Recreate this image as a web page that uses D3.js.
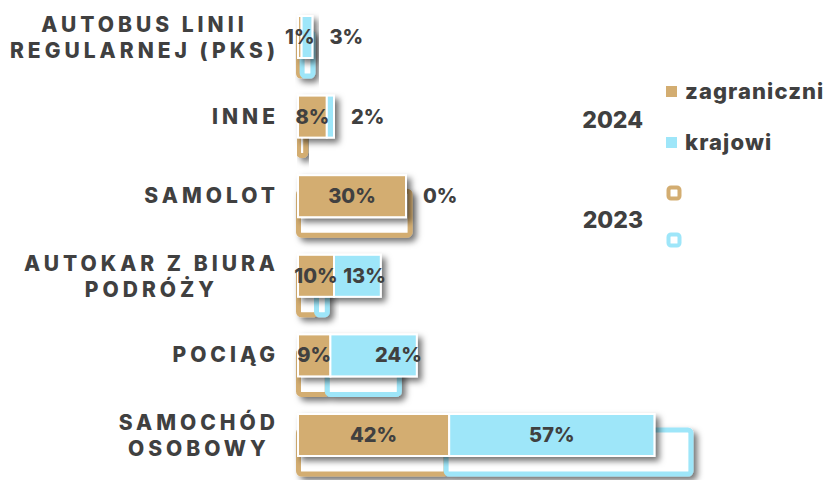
<!DOCTYPE html>
<html>
<head>
<meta charset="utf-8">
<script src="https://cdn.jsdelivr.net/npm/d3@7"></script>
<style>
  body { margin: 0; background: #fff; }
  svg { font-family: Inter, "Open Sans", sans-serif; font-weight: 800; }
</style>
</head>
<body>
<svg width="831" height="480"></svg>
<script>
// categories (tick labels, split in lines like the original)
var categories = [
  ["AUTOBUS LINII", "REGULARNEJ (PKS)"],
  ["INNE"],
  ["SAMOLOT"],
  ["AUTOKAR Z BIURA", "PODRÓŻY"],
  ["POCIĄG"],
  ["SAMOCHÓD", "OSOBOWY"]
];
// values in percent
var zag2024 = [1, 8, 30, 10, 9, 42];
var kraj2024 = [3, 2, 0, 13, 24, 57];
var zag2023 = [1, 2, 31, 5, 8, 41];
var kraj2023 = [3, 0, 0, 3, 20, 68];

var tan = "#d3ad71", blue = "#9ee6f9", ink = "#404040";

var svg = d3.select("svg");

// shadow filter
var defs = svg.append("defs");
defs.append("filter").attr("id", "shadow")
    .attr("x", "-20%").attr("y", "-30%").attr("width", "160%").attr("height", "180%")
  .append("feDropShadow")
    .attr("dx", 4).attr("dy", 4).attr("stdDeviation", 3)
    .attr("flood-color", "#000").attr("flood-opacity", 0.55);

var idx = d3.range(categories.length);

var x = d3.scaleLinear().domain([0, 100]).range([298, 658]);
var y = d3.scalePoint().domain(idx).range([37, 435]);

var barH = 42;

var rows = svg.append("g").selectAll("g.row")
  .data(idx)
  .enter().append("g")
  .attr("class", "row");

// 2023 bars: outlined, behind and offset down
var back = rows.append("g").attr("filter", "url(#shadow)");
back.each(function(i) {
  var g = d3.select(this);
  var segs = [
    {v0: 0, v1: zag2023[i], c: tan},
    {v0: zag2023[i], v1: zag2023[i] + kraj2023[i], c: blue}
  ];
  segs.filter(function(s) { return s.v1 > s.v0; }).forEach(function(s) {
    g.append("rect")
      .attr("x", x(s.v0) + 0.5)
      .attr("y", y(i) - 5)
      .attr("width", x(s.v1) - x(s.v0))
      .attr("height", barH + 2)
      .attr("rx", 3)
      .attr("fill", "#fff")
      .attr("stroke", s.c)
      .attr("stroke-width", 5);
  });
});

// 2024 bars: filled stacked
var front = rows.append("g").attr("filter", "url(#shadow)");
front.each(function(i) {
  var g = d3.select(this);
  var segs = [
    {v0: 0, v1: zag2024[i], c: tan},
    {v0: zag2024[i], v1: zag2024[i] + kraj2024[i], c: blue}
  ];
  segs.filter(function(s) { return s.v1 > s.v0; }).forEach(function(s) {
    g.append("rect")
      .attr("x", x(s.v0))
      .attr("y", y(i) - barH / 2)
      .attr("width", x(s.v1) - x(s.v0))
      .attr("height", barH)
      .attr("fill", s.c)
      .attr("stroke", "#fff")
      .attr("stroke-width", 2);
  });
});

// value labels
rows.append("text")
  .attr("x", function(i) { return (x(0) + x(zag2024[i])) / 2; })
  .attr("y", function(i) { return y(i) + 7; })
  .attr("text-anchor", "middle")
  .attr("fill", ink)
  .attr("font-size", 20)
  .text(function(i) { return zag2024[i] + "%"; });

rows.append("text")
  .each(function(i) {
    var s = x(zag2024[i]), e = x(zag2024[i] + kraj2024[i]), w = e - s;
    var t = d3.select(this);
    if (w < 30) t.attr("x", e + 17).attr("text-anchor", "start");
    else if (w < 150) t.attr("x", e + 5).attr("text-anchor", "end");
    else t.attr("x", (s + e) / 2).attr("text-anchor", "middle");
  })
  .attr("y", function(i) { return y(i) + 7; })
  .attr("fill", ink)
  .attr("font-size", 20)
  .text(function(i) { return kraj2024[i] + "%"; });

// category labels, centred lines, block right aligned
var ls = 4, rightEdge = 275;
rows.append("text")
  .attr("fill", ink)
  .attr("font-size", 21)
  .attr("letter-spacing", ls)
  .attr("text-anchor", "middle")
  .each(function(i) {
    var t = d3.select(this);
    var lines = categories[i];
    var spans = lines.map(function(l, k) {
      return t.append("tspan").text(l)
        .attr("y", lines.length === 1 ? y(i) + 7 : y(i) - 5 + k * 26);
    });
    var maxW = d3.max(spans, function(sp) { return sp.node().getComputedTextLength(); });
    var cx = rightEdge + ls - maxW / 2;
    spans.forEach(function(sp) { sp.attr("x", cx); });
  });

// legend
var legend = svg.append("g");
legend.append("text").attr("x", 643).attr("y", 128).attr("text-anchor", "end")
  .attr("font-size", 23).attr("fill", ink).text("2024");
legend.append("text").attr("x", 643).attr("y", 228).attr("text-anchor", "end")
  .attr("font-size", 23).attr("fill", ink).text("2023");

var items2024 = [{c: tan, t: "zagraniczni", y: 91.5}, {c: blue, t: "krajowi", y: 142.5}];
items2024.forEach(function(d) {
  legend.append("rect").attr("x", 666).attr("y", d.y - 5.5)
    .attr("width", 11).attr("height", 11).attr("fill", d.c);
  legend.append("text").attr("x", 685).attr("y", d.y + 7)
    .attr("font-size", 22).attr("letter-spacing", 1.1)
    .attr("fill", ink).text(d.t);
});
[{c: tan, y: 193}, {c: blue, y: 240}].forEach(function(d) {
  legend.append("rect").attr("x", 668.5).attr("y", d.y - 5.5)
    .attr("width", 11).attr("height", 11).attr("rx", 2.5)
    .attr("fill", "#fff").attr("stroke", d.c).attr("stroke-width", 4);
});
</script>
</body>
</html>
